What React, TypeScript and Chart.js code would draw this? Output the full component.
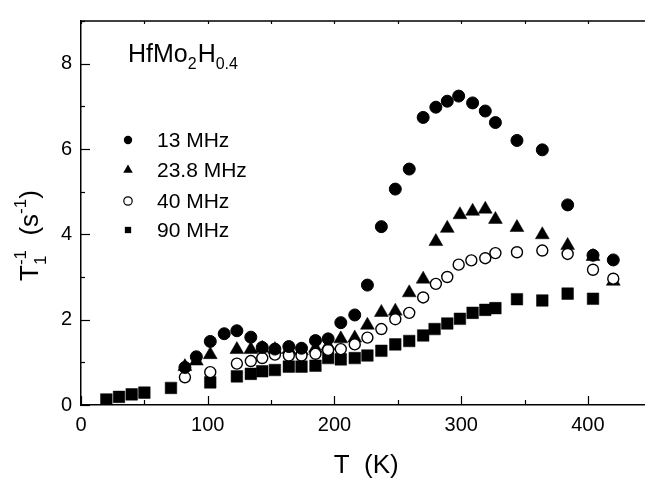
import React, { useEffect, useRef } from "react";
import { Chart, registerables } from "chart.js";

Chart.register(...registerables);

const FONT = "'Liberation Sans', Arial, sans-serif";

const t13 = [82, 91, 102, 113, 123, 134, 143, 153, 164, 174, 185, 195, 205, 216, 226, 237, 248, 259, 270, 280, 289, 298, 309, 319, 327, 344, 364, 384, 404, 420];
const r13 = [0.88, 1.13, 1.49, 1.67, 1.74, 1.59, 1.35, 1.31, 1.37, 1.33, 1.51, 1.55, 1.93, 2.11, 2.81, 4.18, 5.06, 5.53, 6.74, 6.98, 7.12, 7.24, 7.08, 6.89, 6.62, 6.2, 5.98, 4.69, 3.51, 3.4];

const t23 = [82, 91, 102, 123, 134, 143, 153, 164, 174, 185, 195, 205, 216, 226, 237, 248, 259, 270, 280, 289, 299, 309, 319, 327, 344, 364, 384, 404, 420];
const r23 = [0.9, 1.03, 1.18, 1.3, 1.3, 1.33, 1.3, 1.3, 1.27, 1.33, 1.39, 1.55, 1.57, 1.87, 2.17, 2.2, 2.63, 2.95, 3.83, 4.14, 4.46, 4.54, 4.59, 4.35, 4.16, 3.99, 3.74, 3.48, 2.9];

const t40 = [82, 102, 123, 134, 143, 153, 164, 174, 185, 195, 205, 216, 226, 237, 248, 259, 270, 280, 289, 298, 308, 319, 327, 344, 364, 384, 404, 420];
const r40 = [0.65, 0.77, 0.97, 1.03, 1.1, 1.18, 1.16, 1.16, 1.2, 1.29, 1.31, 1.42, 1.58, 1.78, 2.01, 2.16, 2.52, 2.84, 3.0, 3.29, 3.39, 3.44, 3.56, 3.58, 3.62, 3.54, 3.17, 2.96];

const t90 = [20, 30, 40, 50, 71, 102, 123, 134, 143, 153, 164, 174, 185, 195, 205, 216, 226, 237, 248, 259, 270, 279, 289, 299, 309, 319, 327, 344, 364, 384, 404];
const r90 = [0.13, 0.19, 0.25, 0.29, 0.4, 0.53, 0.67, 0.73, 0.79, 0.82, 0.9, 0.9, 0.92, 1.1, 1.07, 1.1, 1.16, 1.27, 1.42, 1.5, 1.63, 1.78, 1.91, 2.02, 2.16, 2.23, 2.27, 2.48, 2.45, 2.61, 2.49];

const seriesLabels = ["13 MHz", "23.8 MHz", "40 MHz", "90 MHz"];
const compound = ["HfMo", "2", "H", "0.4"];
const xTitle = "T  (K)";

const xMin = 0, xMax = 450, xStep = 50, xLabelStep = 100;
const yMin = 0, yMax = 9, yStep = 1, yLabelStep = 2;

const pts = (xs: number[], ys: number[]) => xs.map((x, i) => ({ x, y: ys[i] }));

function drawMarker(ctx: CanvasRenderingContext2D, kind: string, x: number, y: number, r: number) {
  ctx.beginPath();
  if (kind === "circle" || kind === "open") {
    ctx.arc(x, y, r, 0, Math.PI * 2);
  } else if (kind === "triangle") {
    ctx.moveTo(x, y - r);
    ctx.lineTo(x + r * 0.866, y + r * 0.5);
    ctx.lineTo(x - r * 0.866, y + r * 0.5);
    ctx.closePath();
  } else {
    ctx.rect(x - r * 0.75, y - r * 0.75, r * 1.5, r * 1.5);
  }
  if (kind === "open") {
    ctx.fillStyle = "#fff";
    ctx.fill();
    ctx.lineWidth = 1.2;
    ctx.strokeStyle = "#000";
    ctx.stroke();
  } else {
    ctx.fillStyle = "#000";
    ctx.fill();
  }
}

const overlay = {
  id: "overlay",
  afterDraw(chart: any) {
    const { ctx, chartArea: a, scales } = chart;
    const x = scales.x, y = scales.y;
    ctx.save();
    ctx.strokeStyle = "#000";
    ctx.lineWidth = 1.5;
    ctx.beginPath();
    ctx.moveTo(a.left, a.top);
    ctx.lineTo(a.right, a.top);
    ctx.stroke();
    ctx.lineWidth = 1.2;
    for (let v = xMin; v <= xMax; v += xStep) {
      const px = Math.round(x.getPixelForValue(v)) + 0.5;
      const major = v % xLabelStep === 0;
      ctx.beginPath();
      ctx.moveTo(px, a.bottom);
      ctx.lineTo(px, a.bottom - (major ? 9 : 5));
      ctx.moveTo(px, a.top);
      ctx.lineTo(px, a.top + 3);
      ctx.stroke();
    }
    for (let v = yMin; v <= yMax; v += yStep) {
      const py = Math.round(y.getPixelForValue(v)) + 0.5;
      const major = v % yLabelStep === 0;
      ctx.beginPath();
      ctx.moveTo(a.left, py);
      ctx.lineTo(a.left + (major ? 9 : 4), py);
      ctx.stroke();
    }

    ctx.fillStyle = "#000";
    ctx.textBaseline = "alphabetic";
    ctx.textAlign = "left";
    // compound label
    let cx = 128;
    const parts: [string, number, number][] = [
      [compound[0], 25, 62],
      [compound[1], 16, 69],
      [compound[2], 25, 62],
      [compound[3], 16, 69],
    ];
    for (const [t, s, b] of parts) {
      ctx.font = `${s}px ${FONT}`;
      ctx.fillText(t, cx, b);
      cx += ctx.measureText(t).width + (s < 20 ? 1 : 0);
    }

    // legend
    const kinds = ["circle", "triangle", "open", "rect"];
    const rows = [140, 170, 201, 230];
    ctx.font = `21px ${FONT}`;
    ctx.textBaseline = "middle";
    rows.forEach((ry, i) => {
      drawMarker(ctx, kinds[i], 128, ry, kinds[i] === "triangle" ? 5.5 : 4.2);
      ctx.fillStyle = "#000";
      ctx.fillText(seriesLabels[i], 157, ry + 1);
    });

    // x title
    ctx.textBaseline = "alphabetic";
    ctx.textAlign = "center";
    ctx.font = `26px ${FONT}`;
    ctx.fillText(xTitle, (a.left + a.right) / 2, 473);

    // y title (rotated)
    ctx.save();
    ctx.translate(38, 281);
    ctx.rotate(-Math.PI / 2);
    ctx.textAlign = "left";
    let lx = 0;
    const ySegs: [string, number, number][] = [
      ["T", 26, 0],
      ["1", 17, 8],
      ["-1", 17, -12],
      ["  (s", 26, 0],
      ["-1", 17, -12],
      [")", 26, 0],
    ];
    for (let i = 0; i < ySegs.length; i++) {
      const [t, s, off] = ySegs[i];
      ctx.font = `${s}px ${FONT}`;
      let drawX = lx;
      if (i === 2) {
        drawX = lx - ctx.measureText("1").width;
      }
      ctx.fillText(t, drawX, off);
      const w = ctx.measureText(t).width;
      if (i === 2) lx = Math.max(lx, drawX + w);
      else lx = drawX + w;
    }
    ctx.restore();
    ctx.restore();
  },
};

export default function App() {
  const ref = useRef<HTMLCanvasElement | null>(null);
  useEffect(() => {
    if (!ref.current) return;
    const chart = new Chart(ref.current, {
      type: "scatter",
      data: {
        datasets: [
          {
            label: seriesLabels[0],
            data: pts(t13, r13),
            pointStyle: "circle",
            pointRadius: 6,
            pointBorderWidth: 1,
            pointBackgroundColor: "#000",
            pointBorderColor: "#000",
            order: 0,
          },
          {
            label: seriesLabels[1],
            data: pts(t23, r23),
            pointStyle: "triangle",
            pointRadius: 8,
            pointBorderWidth: 0.5,
            pointBackgroundColor: "#000",
            pointBorderColor: "#000",
            order: 2,
          },
          {
            label: seriesLabels[2],
            data: pts(t40, r40),
            pointStyle: "circle",
            pointRadius: 5.5,
            pointBorderWidth: 1.4,
            pointBackgroundColor: "#fff",
            pointBorderColor: "#000",
            order: 1,
          },
          {
            label: seriesLabels[3],
            data: pts(t90, r90),
            pointStyle: "rect",
            pointRadius: 8.2,
            pointBorderWidth: 0.5,
            pointBackgroundColor: "#000",
            pointBorderColor: "#000",
            order: 3,
          },
        ],
      },
      options: {
        animation: false,
        responsive: false,
        devicePixelRatio: 1,
        layout: { padding: { top: 5, right: 8, left: 0, bottom: 0 } },
        plugins: { legend: { display: false }, tooltip: { enabled: false }, title: { display: false } },
        scales: {
          x: {
            type: "linear",
            min: xMin,
            max: xMax,
            afterFit: (s: any) => {
              s.height = 79;
            },
            grid: { display: false, drawTicks: false },
            border: { display: true, color: "#000", width: 1.5 },
            ticks: {
              stepSize: xStep,
              autoSkip: false,
              maxRotation: 0,
              padding: 8,
              color: "#000",
              font: { family: FONT, size: 20 },
              callback: (v: any) => (Number(v) % xLabelStep === 0 ? String(v) : ""),
            },
          },
          y: {
            type: "linear",
            min: yMin,
            max: yMax,
            afterFit: (s: any) => {
              s.width = 81;
            },
            grid: { display: false, drawTicks: false },
            border: { display: true, color: "#000", width: 1.5 },
            ticks: {
              stepSize: yStep,
              autoSkip: false,
              padding: 9,
              color: "#000",
              font: { family: FONT, size: 20 },
              callback: (v: any) => (Number(v) % yLabelStep === 0 ? String(v) : ""),
            },
          },
        },
      },
      plugins: [overlay],
    });
    return () => chart.destroy();
  }, []);
  return (
    <div style={{ position: "absolute", left: 0, top: 0, width: 645, height: 484, overflow: "hidden", background: "#fff" }}>
      <canvas ref={ref} width={660} height={484} style={{ width: 660, height: 484, display: "block" }} />
    </div>
  );
}
